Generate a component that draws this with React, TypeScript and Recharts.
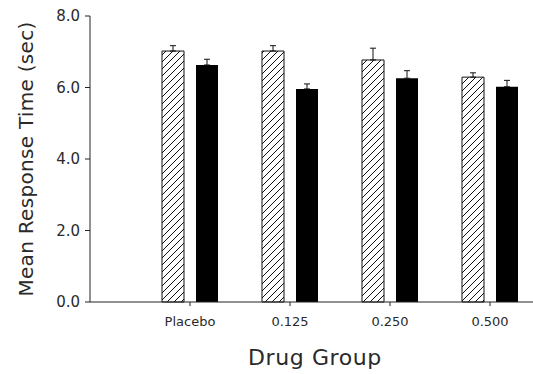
import React from 'react';
import { BarChart, Bar, XAxis, YAxis, ErrorBar } from 'recharts';

const groups = ['Placebo', '0.125', '0.250', '0.500'];
const hatchedMeans = [7.02, 7.02, 6.77, 6.29];
const hatchedErr = [0.15, 0.15, 0.33, 0.12];
const solidMeans = [6.63, 5.96, 6.26, 6.02];
const solidErr = [0.16, 0.14, 0.21, 0.18];
const yTicks = [0, 2, 4, 6, 8];

const data = groups.map((g, i) => ({
  group: g,
  hatched: hatchedMeans[i],
  hatchedE: [0, hatchedErr[i]],
  solid: solidMeans[i],
  solidE: [0, solidErr[i]],
}));

const FONT = '"DejaVu Sans", sans-serif';
const INK = '#2a2a2a';

const YLabel = (props: any) => {
  const vb = props.viewBox || {};
  const cx = vb.x - 4;
  const cy = vb.y + vb.height / 2;
  return (
    <text
      x={cx}
      y={cy}
      transform={`rotate(-90, ${cx}, ${cy})`}
      textAnchor="middle"
      dominantBaseline="central"
      fontFamily={FONT}
      fontSize={20}
      fill={INK}
      letterSpacing={0.3}
    >
      Mean Response Time (sec)
    </text>
  );
};

const XLabel = (props: any) => {
  const vb = props.viewBox || {};
  const cx = vb.x + vb.width / 2;
  return (
    <text
      x={cx}
      y={vb.y + 63}
      textAnchor="middle"
      fontFamily={FONT}
      fontSize={22}
      fill={INK}
      letterSpacing={0.6}
    >
      Drug Group
    </text>
  );
};

export default function App() {
  return (
    <div style={{ position: 'absolute', left: 0, top: 0, background: '#fff' }}>
      <BarChart
        width={540}
        height={374}
        data={data}
        margin={{ top: 16, right: 0, bottom: 0, left: 30 }}
        barSize={22}
        barGap={12}
      >
        <defs>
          <pattern id="hatch" patternUnits="userSpaceOnUse" width="7" height="7">
            <rect width="7" height="7" fill="#fff" />
            <path d="M0,7 L7,0 M-1,1 L1,-1 M6,8 L8,6" stroke="#111" strokeWidth={1} />
          </pattern>
        </defs>
        <XAxis
          dataKey="group"
          padding={{ left: 50, right: 0 }}
          height={72}
          tickSize={4}
          tickMargin={11}
          stroke="#222"
          tick={{ fontFamily: FONT, fontSize: 13, fill: INK }}
          label={<XLabel />}
        />
        <YAxis
          domain={[0, 8]}
          ticks={yTicks}
          width={60}
          tickSize={5}
          tickMargin={5}
          stroke="#222"
          tickFormatter={(v: number) => v.toFixed(1)}
          tick={{ fontFamily: FONT, fontSize: 15, fill: INK }}
          label={<YLabel />}
        />
        <Bar dataKey="hatched" fill="url(#hatch)" stroke="#111" strokeWidth={1} isAnimationActive={false}>
          <ErrorBar dataKey="hatchedE" width={3} stroke="#111" strokeWidth={1} />
        </Bar>
        <Bar dataKey="solid" fill="#000" isAnimationActive={false}>
          <ErrorBar dataKey="solidE" width={3} stroke="#111" strokeWidth={1} />
        </Bar>
      </BarChart>
    </div>
  );
}
